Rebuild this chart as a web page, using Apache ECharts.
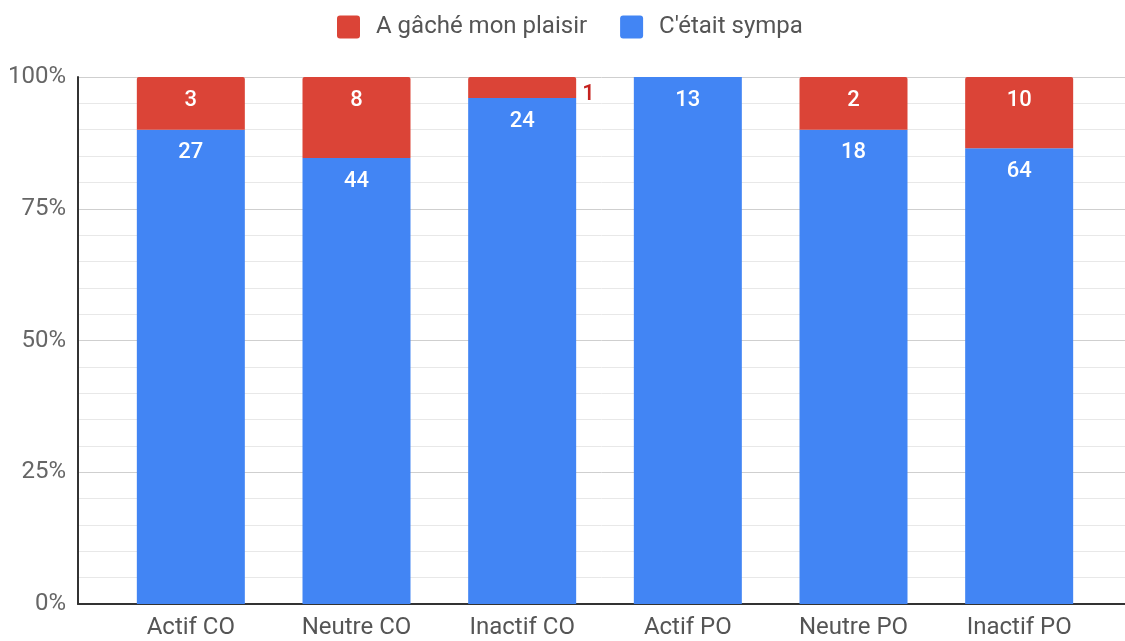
<!DOCTYPE html>
<html>
<head>
<meta charset="utf-8">
<script src="https://cdn.jsdelivr.net/npm/echarts@6/dist/echarts.min.js"></script>
<style>
  html, body { margin: 0; padding: 0; background: #fff; }
  #chart { width: 1125px; height: 641px; }
</style>
</head>
<body>
<div id="chart"></div>
<script>
// Response counts per group
const categories = ['Actif CO', 'Neutre CO', 'Inactif CO', 'Actif PO', 'Neutre PO', 'Inactif PO'];
const sympa = [27, 44, 24, 13, 18, 64];       // "C'était sympa"
const gache = [3, 8, 1, 0, 2, 10];            // "A gâché mon plaisir"
const yTicks = [0, 25, 50, 75, 100];

const NAME_GACHE = 'A gâché mon plaisir';
const NAME_SYMPA = "C'était sympa";
const RED = '#db4437';
const BLUE = '#4285f4';
const FONT = 'Roboto, "Noto Sans", sans-serif';
// square legend swatch with slightly rounded corners
const SWATCH = 'path://M3,0 H20 Q23,0 23,3 V20 Q23,23 20,23 H3 Q0,23 0,20 V3 Q0,0 3,0 Z';

// 100% stacking: share of each answer within its group
const totals = categories.map((_, i) => sympa[i] + gache[i]);
const pct = (arr) => arr.map((v, i) => ({ value: v / totals[i] * 100, count: v }));

const segLabel = {
  show: true,
  position: 'insideTop',
  distance: 12,
  color: '#fff',
  fontSize: 22,
  fontWeight: 500,
  fontFamily: FONT,
  formatter: (p) => (p.data.count > 0 ? String(p.data.count) : '')
};

// Small segments too short for their count get it beside the bar
const gacheData = pct(gache).map((d) => {
  if (d.count > 0 && d.value < 5) {
    d.label = { position: 'right', distance: 6, offset: [0, 7], color: '#c5221f' };
  }
  return d;
});

const chart = echarts.init(document.getElementById('chart'), null, { renderer: 'canvas' });
chart.setOption({
  animation: false,
  backgroundColor: '#fff',
  textStyle: { fontFamily: FONT },
  legend: {
    top: 15,
    left: 337,
    padding: 0,
    itemWidth: 23,
    itemHeight: 23,
    itemGap: 33,
    icon: SWATCH,
    data: [NAME_GACHE, NAME_SYMPA],
    textStyle: { fontSize: 24, color: '#555', fontFamily: FONT, padding: [0, 0, 0, 11] }
  },
  grid: [
    // full-width frame: gridlines and axis lines
    { left: 78, right: 0, top: 77, bottom: 37 },
    // bar area
    { left: 108, right: 23, top: 77, bottom: 37 }
  ],
  xAxis: [
    {
      gridIndex: 0, type: 'value', min: 0, max: 1,
      axisLine: { show: true, onZero: false, lineStyle: { color: '#333', width: 2 } },
      axisTick: { show: false }, axisLabel: { show: false }, splitLine: { show: false }
    },
    {
      gridIndex: 1, type: 'category', data: categories,
      axisLine: { show: false }, axisTick: { show: false },
      axisLabel: { color: '#555', fontSize: 24, margin: 12, fontFamily: FONT }
    }
  ],
  yAxis: [
    {
      gridIndex: 0, type: 'value', min: yTicks[0], max: yTicks[yTicks.length - 1], interval: 25,
      axisLine: { show: true, lineStyle: { color: '#333', width: 2 } },
      axisTick: { show: false },
      axisLabel: { color: '#666', fontSize: 24, margin: 12, fontFamily: FONT, formatter: '{value}%' },
      splitLine: { show: true, lineStyle: { color: '#cfcfcf', width: 1 } },
      minorTick: { show: false, splitNumber: 5 },
      minorSplitLine: { show: true, lineStyle: { color: '#e8e8e8', width: 1 } }
    },
    {
      gridIndex: 1, type: 'value', min: 0, max: 100, show: false,
      splitLine: { show: false }
    }
  ],
  series: [
    {
      name: NAME_SYMPA, type: 'bar', stack: 'share', xAxisIndex: 1, yAxisIndex: 1,
      barWidth: 108, itemStyle: { color: BLUE },
      label: segLabel, data: pct(sympa)
    },
    {
      name: NAME_GACHE, type: 'bar', stack: 'share', xAxisIndex: 1, yAxisIndex: 1,
      barWidth: 108, itemStyle: { color: RED, borderRadius: [2, 2, 0, 0] },
      label: segLabel, data: gacheData
    }
  ]
});
</script>
</body>
</html>
